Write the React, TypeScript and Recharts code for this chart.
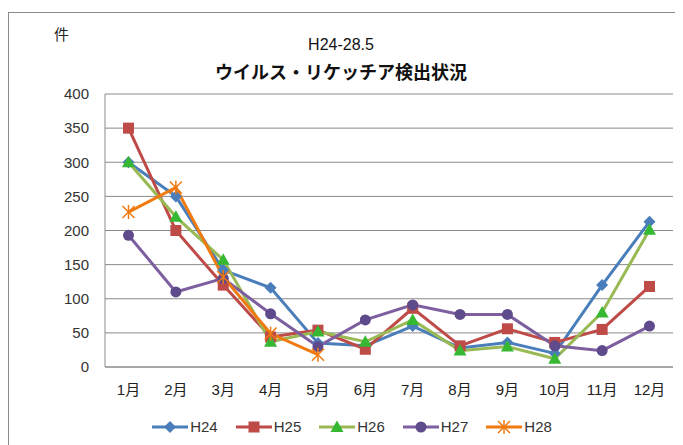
import React from "react";
import { LineChart, Line, XAxis, YAxis, CartesianGrid, Legend } from "recharts";

const months = ["1月", "2月", "3月", "4月", "5月", "6月", "7月", "8月", "9月", "10月", "11月", "12月"];
const yTicks = [0, 50, 100, 150, 200, 250, 300, 350, 400];

const h24 = [300, 250, 142, 116, 35, 31, 60, 28, 36, 20, 120, 213];
const h25 = [350, 200, 120, 44, 54, 26, 86, 31, 56, 36, 55, 118];
const h26 = [300, 220, 157, 37, 52, 37, 69, 24, 30, 12, 80, 201];
const h27 = [193, 110, 130, 78, 30, 69, 91, 77, 77, 31, 24, 60];
const h28 = [227, 263, 132, 49, 18];

type Marker = "diamond" | "square" | "triangle" | "circle" | "star";

const series: { key: string; values: number[]; color: string; markerColor: string; marker: Marker }[] = [
  { key: "H24", values: h24, color: "#4a7ebb", markerColor: "#4a7ebb", marker: "diamond" },
  { key: "H25", values: h25, color: "#be4b48", markerColor: "#be4b48", marker: "square" },
  { key: "H26", values: h26, color: "#98b954", markerColor: "#36b833", marker: "triangle" },
  { key: "H27", values: h27, color: "#7d5fa0", markerColor: "#5f4a8b", marker: "circle" },
  { key: "H28", values: h28, color: "#f07a10", markerColor: "#f07a10", marker: "star" },
];

const data = months.map((m, i) => {
  const row: Record<string, string | number | null> = { month: m };
  series.forEach((s) => {
    row[s.key] = i < s.values.length ? s.values[i] : null;
  });
  return row;
});

const font = '"Liberation Sans", "Noto Sans CJK JP", sans-serif';

function MarkerShape({ type, cx, cy, color }: { type: Marker; cx: number; cy: number; color: string }) {
  if (type === "diamond")
    return <polygon points={`${cx},${cy - 6} ${cx + 6},${cy} ${cx},${cy + 6} ${cx - 6},${cy}`} fill={color} />;
  if (type === "square") return <rect x={cx - 5.5} y={cy - 5.5} width={11} height={11} fill={color} />;
  if (type === "triangle")
    return <polygon points={`${cx},${cy - 6.5} ${cx + 6.5},${cy + 5} ${cx - 6.5},${cy + 5}`} fill={color} />;
  if (type === "circle") return <circle cx={cx} cy={cy} r={5.5} fill={color} />;
  return (
    <g stroke={color} strokeWidth={1.5}>
      <line x1={cx - 6} y1={cy - 6} x2={cx + 6} y2={cy + 6} />
      <line x1={cx - 6} y1={cy + 6} x2={cx + 6} y2={cy - 6} />
      <line x1={cx} y1={cy - 7} x2={cx} y2={cy + 7} />
    </g>
  );
}

function LegendContent() {
  return (
    <div
      style={{
        display: "flex",
        justifyContent: "center",
        gap: 17,
        paddingLeft: 22,
        paddingTop: 3,
        fontFamily: font,
        fontSize: 15,
        color: "#333",
      }}
    >
      {series.map((s) => (
        <div key={s.key} style={{ display: "flex", alignItems: "center" }}>
          <svg width={38} height={16}>
            <line x1={1} y1={8} x2={37} y2={8} stroke={s.color} strokeWidth={3} />
            <MarkerShape type={s.marker} cx={19} cy={8} color={s.markerColor} />
          </svg>
          <span style={{ marginLeft: 1 }}>{s.key}</span>
        </div>
      ))}
    </div>
  );
}

export default function App() {
  return (
    <div
      style={{
        position: "relative",
        width: 675,
        height: 440,
        marginTop: 4,
        border: "1px solid #8a8a8a",
        boxSizing: "border-box",
        background: "#fff",
      }}
    >
      <div style={{ position: "absolute", left: 45, top: 10, fontFamily: font, fontSize: 15, color: "#222" }}>件</div>
      <div
        style={{
          position: "absolute",
          left: 0,
          width: 664,
          top: 19,
          textAlign: "center",
          fontFamily: font,
          fontSize: 16,
          color: "#111",
          lineHeight: "26px",
        }}
      >
        <div>H24-28.5</div>
        <div style={{ fontWeight: 700, fontSize: 18, fontFamily: '"Noto Sans CJK JP", sans-serif' }}>
          ウイルス・リケッチア検出状況
        </div>
      </div>
      <div style={{ position: "absolute", left: -1, top: -5 }}>
        <LineChart width={675} height={437} data={data} margin={{ top: 86, right: 10, bottom: 0, left: 0 }}>
          <CartesianGrid vertical={false} stroke="#8a8a8a" strokeWidth={1} />
          <XAxis
            dataKey="month"
            height={48}
            padding={{ left: 23.5, right: 23.5 }}
            tickLine={false}
            axisLine={{ stroke: "#8a8a8a" }}
            tickMargin={11}
            tick={{ fontSize: 15, fill: "#222", fontFamily: font }}
            interval={0}
          />
          <YAxis
            width={97}
            domain={[0, 400]}
            ticks={yTicks}
            tickLine={false}
            axisLine={{ stroke: "#8a8a8a" }}
            tickMargin={10}
            tick={{ fontSize: 15, fill: "#333", fontFamily: font }}
          />
          <Legend verticalAlign="bottom" height={30} content={() => <LegendContent />} />
          {series.map((s) => (
            <Line
              key={s.key}
              dataKey={s.key}
              stroke={s.color}
              strokeWidth={3}
              isAnimationActive={false}
              connectNulls={false}
              dot={(p: any) =>
                p.value == null || p.cy == null ? (
                  <g key={`${s.key}-${p.index}`} />
                ) : (
                  <MarkerShape key={`${s.key}-${p.index}`} type={s.marker} cx={p.cx} cy={p.cy} color={s.markerColor} />
                )
              }
              activeDot={false}
            />
          ))}
        </LineChart>
      </div>
    </div>
  );
}
